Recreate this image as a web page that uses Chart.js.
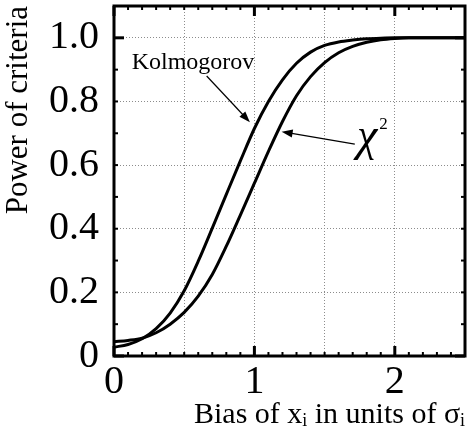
<!DOCTYPE html>
<html>
<head>
<meta charset="utf-8">
<script src="https://cdn.jsdelivr.net/npm/chart.js@4.4.0/dist/chart.umd.min.js"></script>
<style>
    html, body { margin: 0; padding: 0; background: #fff; }
    canvas { display: block; }
</style>
</head>
<body>
<canvas id="js-power-chart" width="467" height="434"></canvas>
<script>
// Bias of x_i in units of sigma_i
const bias = [0, 0.1, 0.2, 0.3, 0.4, 0.5, 0.6, 0.7, 0.8, 0.9, 1.0, 1.1, 1.2,
    1.3, 1.4, 1.5, 1.6, 1.7, 1.8, 1.9, 2.0, 2.1, 2.2, 2.3, 2.4, 2.5];
// power of the Kolmogorov test
const kolmogorov = [0.028, 0.036, 0.054, 0.086, 0.135, 0.205, 0.298, 0.402, 0.508, 0.613,
    0.715, 0.8, 0.868, 0.92, 0.955, 0.976, 0.987, 0.993, 0.997, 0.999,
    1.0, 1.0, 1.0, 1.0, 1.0, 1.0];
// power of the chi^2 test
const chiSquare = [0.045, 0.049, 0.056, 0.073, 0.1, 0.137, 0.188, 0.256, 0.345, 0.443,
    0.543, 0.643, 0.737, 0.818, 0.878, 0.922, 0.953, 0.973, 0.986, 0.994,
    0.998, 1.0, 1.0, 1.0, 1.0, 1.0];

const xGridValues = [0, 0.5, 1, 1.5, 2, 2.5];
const xTickValues = [0, 1, 2];
const xTickLabels = ['0', '1', '2'];
const yTickValues = [0, 0.2, 0.4, 0.6, 0.8, 1.0];
const yTickLabels = ['0', '0.2', '0.4', '0.6', '0.8', '1.0'];

// Beschriftungen im Diagramm (Datenkoordinaten)
const kolmLabel = {text: 'Kolmogorov', x: 0.126, y: 0.902};
const kolmArrow = {from: [0.66, 0.88], to: [0.968, 0.735]};
const chiLabel = {text: 'χ', sup: '2', x: 1.73, y: 0.647};
const chiArrow = {from: [1.715, 0.666], to: [1.194, 0.705]};

const serif = "'Liberation Serif', 'Times New Roman', serif";

function labelFor(values, labels) {
    return (v) => {
        const i = values.findIndex(t => Math.abs(t - v) < 1e-6);
        return i < 0 ? '' : labels[i];
    };
}

function arrow(ctx, x0, y0, x1, y1) {
    const ang = Math.atan2(y1 - y0, x1 - x0);
    const len = 11, wid = 4;
    ctx.lineWidth = 1.2;
    ctx.beginPath();
    ctx.moveTo(x0, y0);
    ctx.lineTo(x1 - Math.cos(ang) * len * 0.8, y1 - Math.sin(ang) * len * 0.8);
    ctx.stroke();
    ctx.beginPath();
    ctx.moveTo(x1, y1);
    ctx.lineTo(x1 - Math.cos(ang) * len - Math.sin(ang) * wid, y1 - Math.sin(ang) * len + Math.cos(ang) * wid);
    ctx.lineTo(x1 - Math.cos(ang) * len + Math.sin(ang) * wid, y1 - Math.sin(ang) * len - Math.cos(ang) * wid);
    ctx.closePath();
    ctx.fill();
}

// Rahmen mit Ticks nach innen, auf allen vier Seiten
const framePlugin = {
    id: 'frame',
    afterDatasetsDraw(chart) {
        const {ctx, chartArea: a, scales: {x, y}} = chart;
        ctx.save();
        ctx.strokeStyle = '#000';
        const seg = (x0, y0, x1, y1) => {
            ctx.beginPath();
            ctx.moveTo(x0, y0);
            ctx.lineTo(x1, y1);
            ctx.stroke();
        };
        for (let i = 0; i <= 25; i++) {
            const px = x.getPixelForValue(i / 10);
            const major = i % 10 === 0;
            const len = major ? 10 : 4;
            ctx.lineWidth = major ? 3 : 2;
            seg(px, a.bottom, px, a.bottom - len);
            seg(px, a.top, px, a.top + len);
        }
        for (let i = 0; i <= 11; i++) {
            const py = y.getPixelForValue(i / 10);
            const major = i % 10 === 0;
            const len = major ? 10 : 4;
            ctx.lineWidth = major ? 3 : 2;
            seg(a.left, py, a.left + len, py);
            seg(a.right, py, a.right - len, py);
        }
        ctx.lineWidth = 3;
        ctx.strokeRect(a.left, a.top, a.right - a.left, a.bottom - a.top);
        ctx.restore();
    },
    afterDraw(chart) {
        const {ctx, scales: {x, y}} = chart;
        ctx.save();
        ctx.fillStyle = '#000';
        ctx.strokeStyle = '#000';
        ctx.textBaseline = 'alphabetic';
        ctx.textAlign = 'left';

        ctx.font = '24px ' + serif;
        ctx.fillText(kolmLabel.text, x.getPixelForValue(kolmLabel.x), y.getPixelForValue(kolmLabel.y));
        arrow(ctx, x.getPixelForValue(kolmArrow.from[0]), y.getPixelForValue(kolmArrow.from[1]),
            x.getPixelForValue(kolmArrow.to[0]), y.getPixelForValue(kolmArrow.to[1]));

        const cx = x.getPixelForValue(chiLabel.x);
        const cy = y.getPixelForValue(chiLabel.y);
        ctx.font = 'italic 46px ' + serif;
        ctx.fillText(chiLabel.text, cx, cy);
        const w = ctx.measureText(chiLabel.text).width;
        ctx.font = '17px ' + serif;
        ctx.fillText(chiLabel.sup, cx + w + 2, cy - 21);
        arrow(ctx, x.getPixelForValue(chiArrow.from[0]), y.getPixelForValue(chiArrow.from[1]),
            x.getPixelForValue(chiArrow.to[0]), y.getPixelForValue(chiArrow.to[1]));
        ctx.restore();
    }
};

const ctx = document.getElementById('js-power-chart').getContext('2d');
const powerChart = new Chart(ctx, {
    type: 'line',
    data: {
        labels: bias,
        datasets: [
            {
                label: 'Kolmogorov',
                data: bias.map((b, i) => ({x: b, y: kolmogorov[i]})),
                borderColor: '#000',
                borderWidth: 3,
                pointRadius: 0,
                fill: false,
                cubicInterpolationMode: 'monotone'
            },
            {
                label: 'χ²',
                data: bias.map((b, i) => ({x: b, y: chiSquare[i]})),
                borderColor: '#000',
                borderWidth: 3,
                pointRadius: 0,
                fill: false,
                cubicInterpolationMode: 'monotone'
            }
        ]
    },
    options: {
        responsive: false,
        animation: false,
        devicePixelRatio: 1,
        layout: {padding: {left: 0, right: 2, top: 6, bottom: 0}},
        plugins: {
            legend: {display: false},
            tooltip: {enabled: false}
        },
        scales: {
            x: {
                type: 'linear',
                min: 0,
                max: 2.5,
                afterBuildTicks: (s) => { s.ticks = xGridValues.map(v => ({value: v})); },
                afterFit: (s) => {
                    s.height = 78;
                    s.paddingLeft = 0;
                    s.paddingRight = 0;
                },
                grid: {color: '#8c8c8c', lineWidth: 1, drawTicks: false},
                border: {display: false, dash: [1, 2]},
                ticks: {
                    autoSkip: false,
                    maxRotation: 0,
                    padding: 2,
                    color: '#000',
                    font: {family: serif, size: 40},
                    callback: labelFor(xTickValues, xTickLabels)
                },
                title: {
                    display: true,
                    align: 'end',
                    text: 'Bias of xᵢ in units of σᵢ',
                    color: '#000',
                    font: {family: serif, size: 30},
                    padding: {top: 0, bottom: 1}
                }
            },
            y: {
                min: 0,
                max: 1.1,
                afterBuildTicks: (s) => { s.ticks = yTickValues.map(v => ({value: v})); },
                afterFit: (s) => {
                    s.width = 114;
                    s.paddingTop = 0;
                    s.paddingBottom = 0;
                },
                grid: {color: '#8c8c8c', lineWidth: 1, drawTicks: false},
                border: {display: false, dash: [1, 2]},
                ticks: {
                    autoSkip: false,
                    padding: 15,
                    color: '#000',
                    font: {family: serif, size: 40},
                    callback: labelFor(yTickValues, yTickLabels)
                },
                title: {
                    display: true,
                    align: 'end',
                    text: 'Power of criteria',
                    color: '#000',
                    font: {family: serif, size: 31},
                    padding: {top: 0, bottom: 0}
                }
            }
        }
    },
    plugins: [framePlugin]
});
</script>
</body>
</html>
